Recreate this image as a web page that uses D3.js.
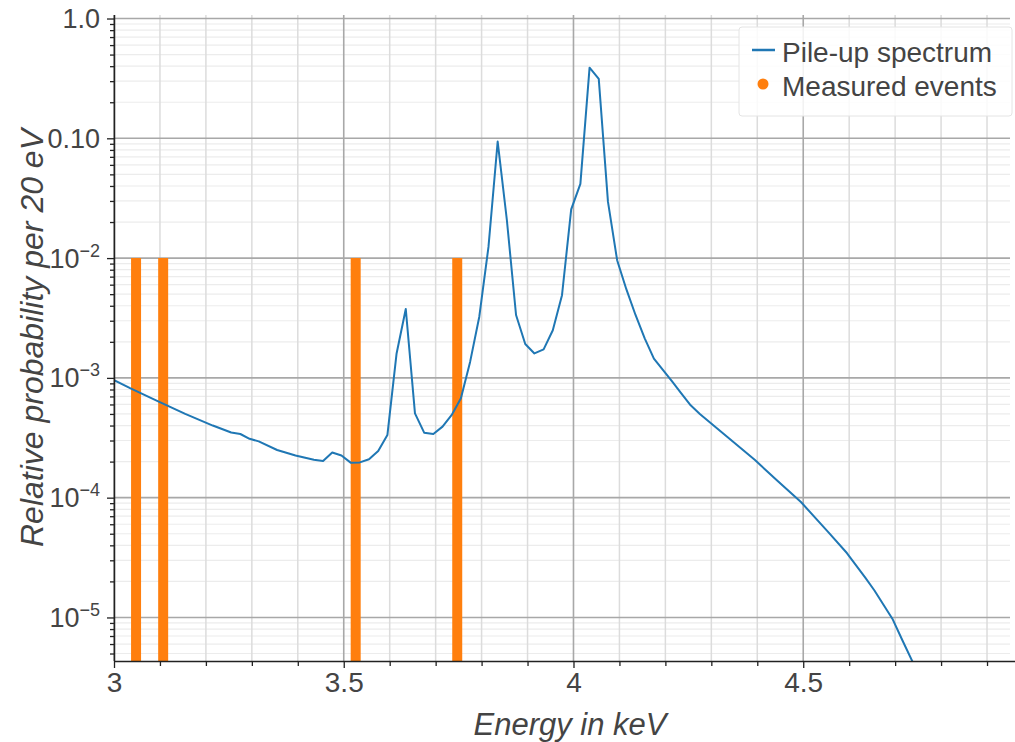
<!DOCTYPE html>
<html>
<head>
<meta charset="utf-8">
<script src="https://cdn.jsdelivr.net/npm/d3@7"></script>
<style>
  html, body { margin: 0; padding: 0; background: #fff; }
  svg { display: block; font-family: "Liberation Sans", Arial, sans-serif; }
</style>
</head>
<body>
<svg id="chart" width="1015" height="742"></svg>
<script>
// ---- data ----
const spectrumEnergy = [2.995, 3.035, 3.095, 3.155, 3.215, 3.255, 3.275, 3.295, 3.315, 3.355,
  3.395, 3.435, 3.455, 3.475, 3.495, 3.515, 3.535, 3.555, 3.575, 3.595,
  3.615, 3.635, 3.655, 3.675, 3.695, 3.715, 3.735, 3.755, 3.775, 3.795,
  3.815, 3.835, 3.855, 3.875, 3.895, 3.915, 3.935, 3.955, 3.975, 3.995,
  4.015, 4.035, 4.055, 4.075, 4.095, 4.115, 4.135, 4.155, 4.175, 4.195,
  4.215, 4.235, 4.255, 4.275, 4.335, 4.395, 4.445, 4.495, 4.555, 4.595,
  4.635, 4.655, 4.675, 4.695, 4.715, 4.755];
const spectrumValue = [9.8e-4, 8.2e-4, 6.4e-4, 5.0e-4, 4.0e-4, 3.5e-4, 3.4e-4, 3.1e-4, 2.95e-4, 2.5e-4,
  2.25e-4, 2.07e-4, 2.02e-4, 2.38e-4, 2.25e-4, 1.96e-4, 1.97e-4, 2.09e-4, 2.45e-4, 3.33e-4,
  1.6e-3, 3.76e-3, 5.06e-4, 3.49e-4, 3.4e-4, 3.92e-4, 4.9e-4, 6.76e-4, 1.36e-3, 3.24e-3,
  1.24e-2, 9.4e-2, 2.08e-2, 3.35e-3, 1.92e-3, 1.6e-3, 1.73e-3, 2.5e-3, 4.9e-3, 2.55e-2,
  4.16e-2, 0.389, 0.313, 2.96e-2, 9.6e-3, 5.5e-3, 3.35e-3, 2.14e-3, 1.45e-3, 1.16e-3,
  9.3e-4, 7.4e-4, 5.9e-4, 5.0e-4, 3.21e-4, 2.06e-4, 1.37e-4, 9.2e-5, 5.13e-5, 3.45e-5,
  2.15e-5, 1.68e-5, 1.27e-5, 9.6e-6, 6.55e-6, 3.1e-6];
const eventEnergy = [3.048, 3.107, 3.526, 3.747];
const eventHeight = 1e-2;
const xTickValues = [3, 3.5, 4, 4.5];
const xTickLabels = ["3", "3.5", "4", "4.5"];
const yTickValues = [1, 0.1, 1e-2, 1e-3, 1e-4, 1e-5];
const yTickLabels = ["1.0", "0.10", "10|−2", "10|−3", "10|−4", "10|−5"];
const seriesNames = ["Pile-up spectrum", "Measured events"];
const xTitle = "Energy in keV";
const yTitle = "Relative probability per 20 eV";

// ---- layout ----
const W = 1015, H = 742;
const pLeft = 114, pTop = 15, pRight = 1010, pBottom = 661;
const blue = "#1f77b4", orange = "#ff7f0e";
const textColor = "#444";

const svg = d3.select("#chart");
const x = d3.scaleLinear().domain([3, 4.95]).range([pLeft, pRight]);
const y = d3.scaleLog().domain([4.33e-6, 1.07]).range([pBottom, pTop]);

svg.append("defs").append("clipPath").attr("id", "plotclip")
  .append("rect").attr("x", pLeft).attr("y", pTop).attr("width", pRight - pLeft).attr("height", pBottom - pTop);

// minor tick values
const xMinor = d3.range(3.0, 4.96, 0.1).map(v => +v.toFixed(2)).filter(v => !xTickValues.some(t => Math.abs(t - v) < 1e-6));
const yMinor = [];
for (let e = -6; e <= 0; e++) for (let m = 2; m <= 9; m++) {
  const v = m * Math.pow(10, e);
  if (v >= 4.33e-6 && v <= 1.07) yMinor.push(v);
}

// ---- grid ----
const grid = svg.append("g");
grid.selectAll(".hminor").data(yMinor).enter().append("line")
  .attr("x1", pLeft).attr("x2", pRight).attr("y1", d => y(d)).attr("y2", d => y(d))
  .attr("stroke", "#ececec").attr("stroke-width", 1.2);
grid.selectAll(".vminor").data(xMinor).enter().append("line")
  .attr("y1", pTop).attr("y2", pBottom).attr("x1", d => x(d)).attr("x2", d => x(d))
  .attr("stroke", "#dcdcdc").attr("stroke-width", 1.5);
grid.selectAll(".hmajor").data(yTickValues).enter().append("line")
  .attr("x1", pLeft).attr("x2", pRight).attr("y1", d => y(d)).attr("y2", d => y(d))
  .attr("stroke", "#a8a8a8").attr("stroke-width", 1.6);
grid.selectAll(".vmajor").data(xTickValues).enter().append("line")
  .attr("y1", pTop).attr("y2", pBottom).attr("x1", d => x(d)).attr("x2", d => x(d))
  .attr("stroke", "#a8a8a8").attr("stroke-width", 1.6);

// ---- data marks ----
const plot = svg.append("g").attr("clip-path", "url(#plotclip)");
plot.selectAll(".event").data(eventEnergy).enter().append("line")
  .attr("x1", d => x(d)).attr("x2", d => x(d))
  .attr("y1", y(eventHeight)).attr("y2", pBottom + 5)
  .attr("stroke", orange).attr("stroke-width", 10);

const pts = spectrumEnergy.map((e, i) => [e, spectrumValue[i]]);
plot.append("path").datum(pts)
  .attr("fill", "none").attr("stroke", blue).attr("stroke-width", 2)
  .attr("stroke-linejoin", "round")
  .attr("d", d3.line().x(d => x(d[0])).y(d => y(d[1])));

// ---- axes ----
const xAxisG = svg.append("g").attr("transform", `translate(0,${pBottom})`);
xAxisG.call(d3.axisBottom(x).tickValues(xTickValues).tickSize(7)
  .tickFormat((d, i) => xTickLabels[i]));
const xMinorG = svg.append("g").attr("transform", `translate(0,${pBottom})`);
xMinorG.call(d3.axisBottom(x).tickValues(xMinor).tickSize(5).tickFormat(""));
xMinorG.select(".domain").remove();

const yAxisG = svg.append("g").attr("transform", `translate(${pLeft},0)`);
yAxisG.call(d3.axisLeft(y).tickValues(yTickValues).tickSize(7).tickFormat(""));
const yMinorG = svg.append("g").attr("transform", `translate(${pLeft},0)`);
yMinorG.call(d3.axisLeft(y).tickValues(yMinor).tickSize(4).tickFormat(""));
yMinorG.select(".domain").remove();

[xAxisG, xMinorG, yAxisG, yMinorG].forEach(g => {
  g.selectAll(".tick line").attr("stroke", "#222").attr("stroke-width", 1.3);
  g.select(".domain").attr("stroke", "#222").attr("stroke-width", 1.5);
});
xAxisG.select(".domain").attr("d", `M${pLeft},0.5H${W}`);
yAxisG.select(".domain").attr("d", `M0.5,${pTop}V${pBottom}`);

xAxisG.selectAll(".tick text").attr("font-size", 28).attr("fill", textColor)
  .attr("dy", null).attr("y", 31);
// y tick labels with superscripts
yTickValues.forEach((v, i) => {
  const parts = yTickLabels[i].split("|");
  const t = svg.append("text")
    .attr("x", pLeft - 14).attr("y", y(v) + 9.5)
    .attr("text-anchor", "end").attr("font-size", 27).attr("fill", textColor);
  t.append("tspan").text(parts[0]);
  if (parts[1]) {
    t.append("tspan").attr("font-size", 18).attr("dy", -11).text(parts[1]);
  }
});

// ---- titles ----
svg.append("text").attr("x", (pLeft + pRight) / 2 + 8).attr("y", 735)
  .attr("text-anchor", "middle").attr("font-size", 31).attr("font-style", "italic")
  .attr("fill", textColor).text(xTitle);
svg.append("text").attr("transform", `translate(43,${(pTop + pBottom) / 2}) rotate(-90)`)
  .attr("text-anchor", "middle").attr("font-size", 32).attr("font-style", "italic")
  .attr("fill", textColor).text(yTitle);

// ---- legend ----
const lg = svg.append("g");
lg.append("rect").attr("x", 739).attr("y", 27).attr("width", 273).attr("height", 89)
  .attr("rx", 3).attr("fill", "#fff").attr("fill-opacity", 0.85)
  .attr("stroke", "#e4e4e4").attr("stroke-width", 1);
lg.append("line").attr("x1", 752).attr("x2", 775).attr("y1", 50).attr("y2", 50)
  .attr("stroke", blue).attr("stroke-width", 2.5);
lg.append("circle").attr("cx", 763).attr("cy", 84).attr("r", 5.5).attr("fill", orange);
lg.selectAll(".lt").data(seriesNames).enter().append("text")
  .attr("x", 782).attr("y", (d, i) => 62 + i * 34)
  .attr("font-size", 28).attr("fill", textColor).text(d => d);
</script>
</body>
</html>
